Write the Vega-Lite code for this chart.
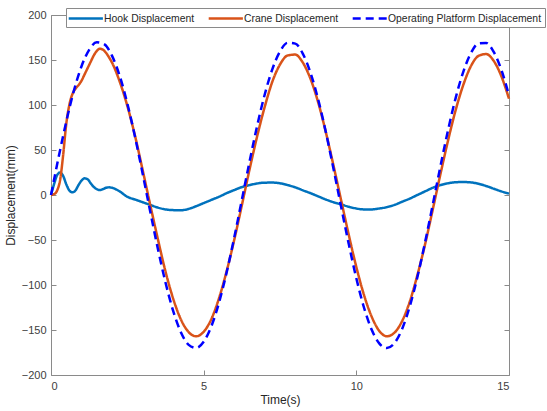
{
  "$schema": "https://vega.github.io/schema/vega-lite/v6.json",
  "width": 458,
  "height": 360,
  "autosize": {"type": "none"},
  "padding": {"left": 51, "top": 15, "right": 38, "bottom": 36},
  "background": "white",
  "config": {
    "font": "Liberation Sans",
    "view": {"stroke": "#8a8a8a", "strokeWidth": 1},
    "axis": {
      "grid": false,
      "domain": false,
      "tickColor": "#8a8a8a",
      "tickSize": -5,
      "labelPadding": 10,
      "labelFontSize": 11,
      "labelColor": "#404040",
      "titleFontSize": 12,
      "titleFontWeight": "normal",
      "titleColor": "#262626"
    },
    "legend": {
      "orient": "none",
      "legendX": 15,
      "legendY": -7,
      "direction": "horizontal",
      "fillColor": "white",
      "strokeColor": "#8a8a8a",
      "padding": 3,
      "symbolType": "M-1.3,0H4.4",
      "symbolSize": 144,
      "symbolStrokeWidth": 2.5,
      "labelFontSize": 10.4,
      "labelColor": "#262626",
      "labelOffset": 20,
      "columnPadding": 8
    }
  },
  "data": {"values": [
    {"t":0,"s":"Hook Displacement","v":0},{"t":0.1,"s":"Hook Displacement","v":12},{"t":0.2,"s":"Hook Displacement","v":22},{"t":0.3,"s":"Hook Displacement","v":25},{"t":0.4,"s":"Hook Displacement","v":21},{"t":0.5,"s":"Hook Displacement","v":12},{"t":0.6,"s":"Hook Displacement","v":5},{"t":0.7,"s":"Hook Displacement","v":3},{"t":0.8,"s":"Hook Displacement","v":5},{"t":0.9,"s":"Hook Displacement","v":11},{"t":1.0,"s":"Hook Displacement","v":16},{"t":1.1,"s":"Hook Displacement","v":18.5},{"t":1.2,"s":"Hook Displacement","v":17.5},{"t":1.3,"s":"Hook Displacement","v":13},{"t":1.4,"s":"Hook Displacement","v":9},{"t":1.5,"s":"Hook Displacement","v":6.5},{"t":1.6,"s":"Hook Displacement","v":5.5},{"t":1.7,"s":"Hook Displacement","v":6.5},{"t":1.8,"s":"Hook Displacement","v":8},{"t":1.9,"s":"Hook Displacement","v":8.5},{"t":2.0,"s":"Hook Displacement","v":8},{"t":2.25,"s":"Hook Displacement","v":4},{"t":2.5,"s":"Hook Displacement","v":-2},{"t":2.75,"s":"Hook Displacement","v":-5},{"t":3.0,"s":"Hook Displacement","v":-8},{"t":3.25,"s":"Hook Displacement","v":-11},{"t":3.5,"s":"Hook Displacement","v":-14},{"t":3.75,"s":"Hook Displacement","v":-16},{"t":4.0,"s":"Hook Displacement","v":-16.8},{"t":4.25,"s":"Hook Displacement","v":-17},{"t":4.5,"s":"Hook Displacement","v":-15.5},{"t":4.75,"s":"Hook Displacement","v":-12.5},{"t":5.0,"s":"Hook Displacement","v":-9},{"t":5.25,"s":"Hook Displacement","v":-5.5},{"t":5.5,"s":"Hook Displacement","v":-2},{"t":5.75,"s":"Hook Displacement","v":2},{"t":6.0,"s":"Hook Displacement","v":5.5},{"t":6.25,"s":"Hook Displacement","v":8.8},{"t":6.5,"s":"Hook Displacement","v":11},{"t":6.75,"s":"Hook Displacement","v":12.8},{"t":7.0,"s":"Hook Displacement","v":13.7},{"t":7.25,"s":"Hook Displacement","v":13.8},{"t":7.5,"s":"Hook Displacement","v":13},{"t":7.75,"s":"Hook Displacement","v":11},{"t":8.0,"s":"Hook Displacement","v":8.5},{"t":8.25,"s":"Hook Displacement","v":5.2},{"t":8.5,"s":"Hook Displacement","v":2},{"t":8.75,"s":"Hook Displacement","v":-1.5},{"t":9.0,"s":"Hook Displacement","v":-5},{"t":9.25,"s":"Hook Displacement","v":-8},{"t":9.5,"s":"Hook Displacement","v":-10.5},{"t":9.75,"s":"Hook Displacement","v":-13},{"t":10.0,"s":"Hook Displacement","v":-15},{"t":10.25,"s":"Hook Displacement","v":-16},{"t":10.5,"s":"Hook Displacement","v":-16},{"t":10.75,"s":"Hook Displacement","v":-15},{"t":11.0,"s":"Hook Displacement","v":-13.5},{"t":11.25,"s":"Hook Displacement","v":-11},{"t":11.5,"s":"Hook Displacement","v":-7.5},{"t":11.75,"s":"Hook Displacement","v":-4},{"t":12.0,"s":"Hook Displacement","v":0},{"t":12.25,"s":"Hook Displacement","v":4},{"t":12.5,"s":"Hook Displacement","v":8},{"t":12.75,"s":"Hook Displacement","v":11},{"t":13.0,"s":"Hook Displacement","v":13},{"t":13.25,"s":"Hook Displacement","v":14.2},{"t":13.5,"s":"Hook Displacement","v":14.4},{"t":13.75,"s":"Hook Displacement","v":14},{"t":14.0,"s":"Hook Displacement","v":12.5},{"t":14.25,"s":"Hook Displacement","v":10},{"t":14.5,"s":"Hook Displacement","v":7},{"t":14.75,"s":"Hook Displacement","v":4},{"t":15.0,"s":"Hook Displacement","v":1.5},

    {"t":0,"s":"Crane Displacement","v":0},{"t":0.1,"s":"Crane Displacement","v":1},{"t":0.2,"s":"Crane Displacement","v":5},{"t":0.3,"s":"Crane Displacement","v":17},{"t":0.4,"s":"Crane Displacement","v":45},{"t":0.5,"s":"Crane Displacement","v":79},{"t":0.6,"s":"Crane Displacement","v":100},{"t":0.7,"s":"Crane Displacement","v":112},{"t":0.8,"s":"Crane Displacement","v":118},{"t":0.9,"s":"Crane Displacement","v":122},{"t":1.0,"s":"Crane Displacement","v":127},{"t":1.1,"s":"Crane Displacement","v":134},{"t":1.2,"s":"Crane Displacement","v":141},{"t":1.3,"s":"Crane Displacement","v":148},{"t":1.4,"s":"Crane Displacement","v":155},{"t":1.5,"s":"Crane Displacement","v":160},{"t":1.6,"s":"Crane Displacement","v":162.5},{"t":1.7,"s":"Crane Displacement","v":161.5},{"t":1.8,"s":"Crane Displacement","v":158},{"t":1.9,"s":"Crane Displacement","v":153},{"t":2.0,"s":"Crane Displacement","v":147},{"t":2.25,"s":"Crane Displacement","v":126},{"t":2.5,"s":"Crane Displacement","v":99},{"t":2.75,"s":"Crane Displacement","v":66},{"t":3.0,"s":"Crane Displacement","v":28},{"t":3.25,"s":"Crane Displacement","v":-11},{"t":3.5,"s":"Crane Displacement","v":-49},{"t":3.75,"s":"Crane Displacement","v":-85},{"t":4.0,"s":"Crane Displacement","v":-115},{"t":4.25,"s":"Crane Displacement","v":-138},{"t":4.5,"s":"Crane Displacement","v":-152},{"t":4.75,"s":"Crane Displacement","v":-157},{"t":5.0,"s":"Crane Displacement","v":-152},{"t":5.25,"s":"Crane Displacement","v":-138},{"t":5.5,"s":"Crane Displacement","v":-115},{"t":5.75,"s":"Crane Displacement","v":-85},{"t":6.0,"s":"Crane Displacement","v":-50},{"t":6.25,"s":"Crane Displacement","v":-11.5},{"t":6.5,"s":"Crane Displacement","v":28},{"t":6.75,"s":"Crane Displacement","v":65},{"t":7.0,"s":"Crane Displacement","v":98},{"t":7.25,"s":"Crane Displacement","v":126},{"t":7.5,"s":"Crane Displacement","v":145},{"t":7.75,"s":"Crane Displacement","v":155},{"t":8.0,"s":"Crane Displacement","v":156},{"t":8.25,"s":"Crane Displacement","v":147},{"t":8.5,"s":"Crane Displacement","v":129},{"t":8.75,"s":"Crane Displacement","v":103},{"t":9.0,"s":"Crane Displacement","v":70},{"t":9.25,"s":"Crane Displacement","v":33},{"t":9.5,"s":"Crane Displacement","v":-5.5},{"t":9.75,"s":"Crane Displacement","v":-44},{"t":10.0,"s":"Crane Displacement","v":-80},{"t":10.25,"s":"Crane Displacement","v":-111},{"t":10.5,"s":"Crane Displacement","v":-135},{"t":10.75,"s":"Crane Displacement","v":-151},{"t":11.0,"s":"Crane Displacement","v":-157},{"t":11.25,"s":"Crane Displacement","v":-153},{"t":11.5,"s":"Crane Displacement","v":-140},{"t":11.75,"s":"Crane Displacement","v":-118.5},{"t":12.0,"s":"Crane Displacement","v":-89},{"t":12.25,"s":"Crane Displacement","v":-55},{"t":12.5,"s":"Crane Displacement","v":-16.6},{"t":12.75,"s":"Crane Displacement","v":22.5},{"t":13.0,"s":"Crane Displacement","v":60},{"t":13.25,"s":"Crane Displacement","v":94},{"t":13.5,"s":"Crane Displacement","v":122},{"t":13.75,"s":"Crane Displacement","v":143},{"t":14.0,"s":"Crane Displacement","v":154.5},{"t":14.25,"s":"Crane Displacement","v":156.6},{"t":14.5,"s":"Crane Displacement","v":149},{"t":14.75,"s":"Crane Displacement","v":132},{"t":15.0,"s":"Crane Displacement","v":107},

    {"t":0,"s":"Operating Platform Displacement","v":0},{"t":0.25,"s":"Operating Platform Displacement","v":42.1},{"t":0.5,"s":"Operating Platform Displacement","v":81.5},{"t":0.75,"s":"Operating Platform Displacement","v":115.9},{"t":1.0,"s":"Operating Platform Displacement","v":143.1},{"t":1.25,"s":"Operating Platform Displacement","v":161.3},{"t":1.5,"s":"Operating Platform Displacement","v":169.6},{"t":1.75,"s":"Operating Platform Displacement","v":167.3},{"t":2.0,"s":"Operating Platform Displacement","v":154.6},{"t":2.25,"s":"Operating Platform Displacement","v":132.3},{"t":2.5,"s":"Operating Platform Displacement","v":101.7},{"t":2.75,"s":"Operating Platform Displacement","v":64.9},{"t":3.0,"s":"Operating Platform Displacement","v":24},{"t":3.25,"s":"Operating Platform Displacement","v":-18.4},{"t":3.5,"s":"Operating Platform Displacement","v":-59.6},{"t":3.75,"s":"Operating Platform Displacement","v":-97.2},{"t":4.0,"s":"Operating Platform Displacement","v":-128.7},{"t":4.25,"s":"Operating Platform Displacement","v":-152.2},{"t":4.5,"s":"Operating Platform Displacement","v":-166.2},{"t":4.75,"s":"Operating Platform Displacement","v":-169.9},{"t":5.0,"s":"Operating Platform Displacement","v":-163},{"t":5.25,"s":"Operating Platform Displacement","v":-146},{"t":5.5,"s":"Operating Platform Displacement","v":-119.9},{"t":5.75,"s":"Operating Platform Displacement","v":-86.4},{"t":6.0,"s":"Operating Platform Displacement","v":-47.5},{"t":6.25,"s":"Operating Platform Displacement","v":-5.6},{"t":6.5,"s":"Operating Platform Displacement","v":36.6},{"t":6.75,"s":"Operating Platform Displacement","v":76.5},{"t":7.0,"s":"Operating Platform Displacement","v":111.7},{"t":7.25,"s":"Operating Platform Displacement","v":139.9},{"t":7.5,"s":"Operating Platform Displacement","v":159.5},{"t":7.75,"s":"Operating Platform Displacement","v":169.1},{"t":8.0,"s":"Operating Platform Displacement","v":168.2},{"t":8.25,"s":"Operating Platform Displacement","v":156.8},{"t":8.5,"s":"Operating Platform Displacement","v":135.7},{"t":8.75,"s":"Operating Platform Displacement","v":106.2},{"t":9.0,"s":"Operating Platform Displacement","v":70.1},{"t":9.25,"s":"Operating Platform Displacement","v":29.5},{"t":9.5,"s":"Operating Platform Displacement","v":-12.8},{"t":9.75,"s":"Operating Platform Displacement","v":-54.1},{"t":10.0,"s":"Operating Platform Displacement","v":-92.5},{"t":10.25,"s":"Operating Platform Displacement","v":-125},{"t":10.5,"s":"Operating Platform Displacement","v":-149.5},{"t":10.75,"s":"Operating Platform Displacement","v":-164.9},{"t":11.0,"s":"Operating Platform Displacement","v":-170},{"t":11.25,"s":"Operating Platform Displacement","v":-164.5},{"t":11.5,"s":"Operating Platform Displacement","v":-148.8},{"t":11.75,"s":"Operating Platform Displacement","v":-123.8},{"t":12.0,"s":"Operating Platform Displacement","v":-91.2},{"t":12.25,"s":"Operating Platform Displacement","v":-52.8},{"t":12.5,"s":"Operating Platform Displacement","v":-11.2},{"t":12.75,"s":"Operating Platform Displacement","v":31.1},{"t":13.0,"s":"Operating Platform Displacement","v":71.4},{"t":13.25,"s":"Operating Platform Displacement","v":107.4},{"t":13.5,"s":"Operating Platform Displacement","v":136.6},{"t":13.75,"s":"Operating Platform Displacement","v":157.5},{"t":14.0,"s":"Operating Platform Displacement","v":168.4},{"t":14.25,"s":"Operating Platform Displacement","v":168.9},{"t":14.5,"s":"Operating Platform Displacement","v":158.9},{"t":14.75,"s":"Operating Platform Displacement","v":139},{"t":15.0,"s":"Operating Platform Displacement","v":110.6}
  ]},
  "layer": [
    {
      "mark": {"type": "line", "strokeWidth": 2.5, "interpolate": "monotone"},
      "encoding": {
        "x": {"field": "t", "type": "quantitative", "scale": {"domain": [0, 15], "nice": false}, "axis": {"values": [0, 5, 10, 15], "title": "Time(s)", "titlePadding": 3}},
        "y": {"field": "v", "type": "quantitative", "scale": {"domain": [-200, 200], "nice": false}, "axis": {"values": [-200, -150, -100, -50, 0, 50, 100, 150, 200], "title": "Displacement(mm)", "titlePadding": 4}},
        "color": {"field": "s", "type": "nominal", "title": null,
          "scale": {"domain": ["Hook Displacement", "Crane Displacement", "Operating Platform Displacement"], "range": ["#0072BD", "#D95319", "#0000FF"]}},
        "strokeDash": {"field": "s", "type": "nominal", "title": null,
          "scale": {"domain": ["Hook Displacement", "Crane Displacement", "Operating Platform Displacement"], "range": [[1, 0], [1, 0], [8, 5]]}}
      }
    },
    {
      "mark": {"type": "line", "opacity": 0},
      "encoding": {
        "x": {"field": "t", "type": "quantitative", "axis": {"orient": "top", "values": [0, 5, 10, 15], "labels": false, "title": null}},
        "y": {"field": "v", "type": "quantitative", "axis": {"orient": "right", "values": [-200, -150, -100, -50, 0, 50, 100, 150, 200], "labels": false, "title": null}}
      }
    }
  ],
  "resolve": {"axis": {"x": "independent", "y": "independent"}}
}
